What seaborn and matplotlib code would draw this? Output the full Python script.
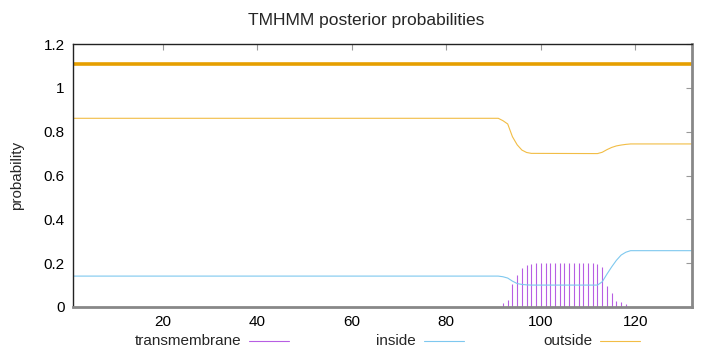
import matplotlib
matplotlib.use("Agg")
import matplotlib.pyplot as plt
from matplotlib.lines import Line2D
import seaborn as sns
import pandas as pd

# ---- data ----
seq_len = 132
topology_level = 1.11

tm_pos = [92, 93, 94, 95, 96, 97, 98, 99, 100, 101, 102, 103, 104, 105,
          106, 107, 108, 109, 110, 111, 112, 113, 114, 115, 116, 117, 118]
tm_prob = [0.018, 0.03, 0.107, 0.145, 0.178, 0.19, 0.196, 0.2, 0.2, 0.2, 0.2,
           0.2, 0.2, 0.2, 0.2, 0.2, 0.2, 0.2, 0.2, 0.2, 0.198, 0.183, 0.095,
           0.065, 0.026, 0.025, 0.012]

in_pos = [1, 91, 92, 93, 94, 95, 96, 97, 98, 112, 113, 114, 115, 116, 117,
          118, 119, 132]
in_prob = [0.141, 0.141, 0.138, 0.132, 0.118, 0.107, 0.103, 0.101, 0.100,
           0.100, 0.115, 0.15, 0.183, 0.213, 0.237, 0.25, 0.257, 0.257]

out_pos = [1, 91, 92, 93, 94, 95, 96, 97, 98, 112, 113, 114, 115, 116, 117,
           118, 119, 132]
out_prob = [0.861, 0.861, 0.85, 0.835, 0.777, 0.74, 0.716, 0.705, 0.701,
            0.70, 0.706, 0.718, 0.728, 0.735, 0.739, 0.742, 0.744, 0.744]

legend_labels = ["transmembrane", "inside", "outside"]
x_ticks = [20, 40, 60, 80, 100, 120]
y_ticks = [0, 0.2, 0.4, 0.6, 0.8, 1, 1.2]
y_tick_labels = ["0", "0.2", "0.4", "0.6", "0.8", "1", "1.2"]

# ---- style ----
sns.set_style("white")
plt.rcParams["font.family"] = ["Liberation Sans", "DejaVu Sans"]
plt.rcParams["font.size"] = 11

c_tm = "#b75ee3"
c_in = "#7ec8ef"
c_out = "#f2bd45"
c_topo = "#e69f00"

fig = plt.figure(figsize=(7.2, 3.52), dpi=100)
ax = fig.add_axes([73 / 720, 45 / 352, 619 / 720, 263 / 352])

df_in = pd.DataFrame({"pos": in_pos, "prob": in_prob})
df_out = pd.DataFrame({"pos": out_pos, "prob": out_prob})

ax.vlines(tm_pos, 0, tm_prob, color=c_tm, lw=0.8)
sns.lineplot(data=df_in, x="pos", y="prob", ax=ax, color=c_in, lw=0.8)
sns.lineplot(data=df_out, x="pos", y="prob", ax=ax, color=c_out, lw=0.8)
ax.axhline(topology_level, color=c_topo, lw=2.6)

ax.set_xlim(1, seq_len)
ax.set_ylim(0, 1.2)
ax.set_xticks(x_ticks)
ax.set_xticklabels([str(t) for t in x_ticks])
ax.set_yticks(y_ticks)
ax.set_yticklabels(y_tick_labels)
ax.set_xlabel("")
ax.set_ylabel("probability", fontsize=11, labelpad=14)
fig.text(366 / 720, 1 - 20 / 352, "TMHMM posterior probabilities",
         ha="center", va="center", fontsize=12.5)

ax.tick_params(axis="both", direction="in", length=4, width=0.8,
               color="#999999", labelcolor="black", labelsize=11,
               top=True, right=True, pad=6)

for side in ["left", "top"]:
    ax.spines[side].set_color("#222222")
    ax.spines[side].set_linewidth(1.0)
for side in ["bottom", "right"]:
    ax.spines[side].set_color("#888888")
    ax.spines[side].set_linewidth(2.0)

# legend (gnuplot-like: right-justified text followed by line sample)
colors = [c_tm, c_in, c_out]
text_right = [241, 416, 592]
ly = 1 - 341 / 352
for lab, col, xr in zip(legend_labels, colors, text_right):
    fig.text(xr / 720, ly, lab, ha="right", va="center", fontsize=11)
    fig.add_artist(Line2D([(xr + 8) / 720, (xr + 48) / 720], [ly, ly],
                          transform=fig.transFigure, color=col, lw=0.8))

fig.savefig("out.png", dpi=100)
